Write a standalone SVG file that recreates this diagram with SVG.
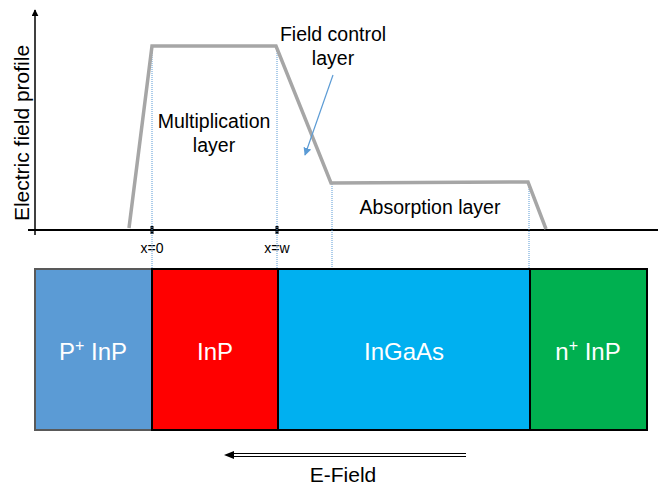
<svg xmlns="http://www.w3.org/2000/svg" width="659" height="489" viewBox="0 0 659 489">
<style>
text{font-family:"Liberation Sans",Arial,sans-serif;fill:#000}
.lbl{font-size:19.5px;text-anchor:middle}
.blk{font-size:24px;fill:#fff;text-anchor:middle}
.sup{font-size:16px}
.guide{stroke:#5b9bd5;stroke-width:1;stroke-dasharray:1 1;fill:none}
.tick{fill:#000}
</style>
<defs>
<marker id="ah" viewBox="0 0 10 10" refX="9" refY="5" markerWidth="7" markerHeight="7" orient="auto" markerUnits="userSpaceOnUse"><path d="M0,0 L10,5 L0,10 z" fill="#000"/></marker>
<marker id="ahb" viewBox="0 0 10 10" refX="9" refY="5" markerWidth="8" markerHeight="8" orient="auto" markerUnits="userSpaceOnUse"><path d="M0,0 L10,5 L0,10 z" fill="#5b9bd5"/></marker>
</defs>
<g id="axes">
<line x1="35" y1="235" x2="35" y2="10" stroke="#000" stroke-width="1.5" marker-end="url(#ah)"/>
<line x1="28" y1="230" x2="658" y2="230" stroke="#000" stroke-width="2"/>
<rect class="tick" x="150.5" y="226" width="3" height="8"/>
<rect class="tick" x="275.5" y="226" width="3" height="8"/>
<text x="152" y="253" style="font-size:14px" text-anchor="middle">x=0</text>
<text x="277" y="253" style="font-size:14px" text-anchor="middle">x=w</text>
<text transform="translate(29,133) rotate(-90)" style="font-size:21px" text-anchor="middle">Electric field profile</text>
</g>
<g id="guides">
<line class="guide" x1="152" y1="47" x2="152" y2="268"/>
<line class="guide" x1="277" y1="47" x2="277" y2="268"/>
<line class="guide" x1="332" y1="184" x2="332" y2="268"/>
<line class="guide" x1="529" y1="183" x2="529" y2="268"/>
</g>
<g id="profile">
<polyline points="129,228 152,46 276,46 331,183 528,182 546,229" fill="none" stroke="#a6a6a6" stroke-width="3.5"/>
</g>
<g id="labels">
<text class="lbl" x="214" y="128">Multiplication</text>
<text class="lbl" x="214" y="152">layer</text>
<text class="lbl" x="333" y="41">Field control</text>
<text class="lbl" x="333" y="65">layer</text>
<text class="lbl" x="430" y="214">Absorption layer</text>
</g>
<g id="connectors">
<line x1="333" y1="75" x2="305" y2="155" stroke="#5b9bd5" stroke-width="1.2" marker-end="url(#ahb)"/>
<line x1="466" y1="453.5" x2="232" y2="453.5" stroke="#000" stroke-width="1"/>
<line x1="466" y1="456.5" x2="232" y2="456.5" stroke="#000" stroke-width="1"/>
<path d="M224,455 L234,451 L234,459 z" fill="#000"/>
</g>
<g id="p-inp">
<rect x="35" y="269" width="117" height="161" fill="#5b9bd5" stroke="#595959" stroke-width="2"/>
<text class="blk" x="93" y="360">P<tspan class="sup" dy="-9">+</tspan><tspan dy="9"> InP</tspan></text>
</g>
<g id="inp">
<rect x="152" y="269" width="126" height="161" fill="#ff0000" stroke="#000" stroke-width="2"/>
<text class="blk" x="215" y="360">InP</text>
</g>
<g id="ingaas">
<rect x="278" y="269" width="252" height="161" fill="#00b0f0" stroke="#000" stroke-width="2"/>
<text class="blk" x="404" y="360">InGaAs</text>
</g>
<g id="n-inp">
<rect x="530" y="269" width="117" height="161" fill="#00b050" stroke="#000" stroke-width="2"/>
<text class="blk" x="588" y="360">n<tspan class="sup" dy="-9">+</tspan><tspan dy="9"> InP</tspan></text>
</g>
<g id="efield">
<text x="343" y="482" style="font-size:21px" text-anchor="middle">E-Field</text>
</g>
</svg>
